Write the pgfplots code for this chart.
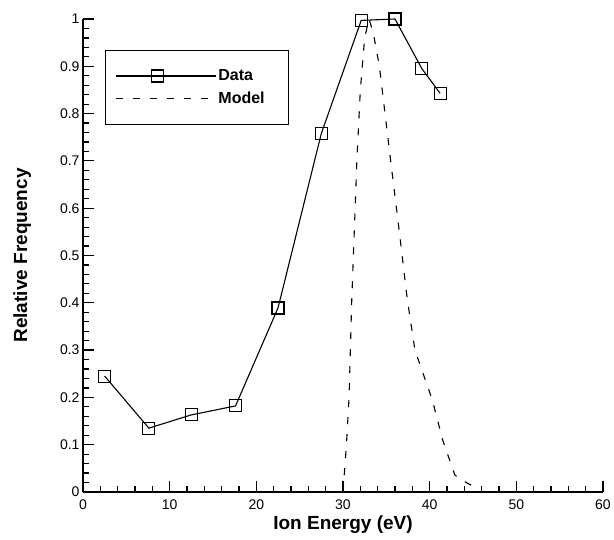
\documentclass[border=0pt]{standalone}
\usepackage{fontspec}
\setmainfont{Liberation Sans}
\usepackage{pgfplots}
\pgfplotsset{compat=1.18}

\begin{document}
\begin{tikzpicture}
\begin{axis}[
  scale only axis,
  width=520pt, height=473pt,
  xmin=0, xmax=60, ymin=0, ymax=1,
  axis x line=bottom, axis y line=left,
  axis line style={-, line width=2pt},
  tick align=inside,
  xtick={0,10,...,60},
  ytick={0,0.1,...,1.0},
  minor x tick num=4, minor y tick num=4,
  major tick length=11pt, minor tick length=6pt,
  tick style={line width=1.2pt, black},
  /pgf/number format/assume math mode=true,
  ticklabel style={font=\fontsize{14}{16}\selectfont},
  xticklabel style={yshift=-4pt},
  xlabel={\textbf{Ion Energy (eV)}},
  ylabel={\textbf{Relative Frequency}},
  label style={font=\fontsize{19}{22}\selectfont},
  xlabel style={yshift=1pt},
  ylabel style={yshift=22pt},
  legend style={at={(rel axis cs:0.042,0.934)}, anchor=north west,
    draw=black, line width=1pt, inner xsep=10pt, inner ysep=17pt,
    font=\bfseries\fontsize{16}{18}\selectfont,
    row sep=6pt},
  legend cell align=left,
  legend image code/.code={
    \path (0pt,0pt) -- (100pt,0pt);
    \draw[mark repeat=2,mark phase=2,#1]
      plot coordinates {(0pt,0pt) (42pt,0pt) (85pt,0pt)};},
]
\addplot[black, line width=1.1pt, mark=square, mark size=6pt,
  mark options={solid, line width=1.1pt, fill=none}]
  coordinates {
  (2.5,0.245) (7.6,0.135) (12.5,0.163) (17.6,0.182) (22.5,0.389)
  (27.5,0.758) (32.1,0.997) (36.0,1.0) (39.1,0.895) (41.2,0.843)
  };
\addlegendentry{Data}
\addplot[black, line width=1.1pt, dash pattern=on 7pt off 10pt]
  coordinates {
  (30.0,0.0) (30.4,0.1) (30.7,0.2) (31.0,0.4) (31.3,0.55) (31.6,0.7)
  (32.0,0.85) (32.5,0.96) (33.0,1.0) (33.5,0.97) (34.2,0.9) (35.5,0.7)
  (36.5,0.55) (37.4,0.41) (38.3,0.3) (40.3,0.195) (41.5,0.11)
  (42.9,0.036) (44.4,0.018) (45.8,0.005)
  };
\addlegendentry{Model\hspace*{12pt}}
\end{axis}
\pgfresetboundingbox
\path (-83pt,-48pt) rectangle (531pt,492pt);
\end{tikzpicture}
\end{document}
